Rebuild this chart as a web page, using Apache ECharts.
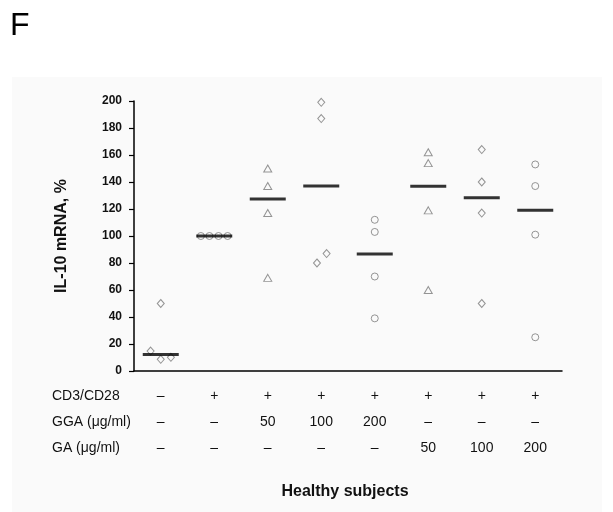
<!DOCTYPE html>
<html><head><meta charset="utf-8">
<script src="https://cdn.jsdelivr.net/npm/echarts@6/dist/echarts.min.js"></script>
<style>html,body{margin:0;padding:0;background:#fff}#c{width:613px;height:512px}</style>
</head><body><div id="c"></div>
<script>
// Condition rows (table under the x axis)
var rowLabels = ['CD3/CD28', 'GGA (\u03bcg/ml)', 'GA (\u03bcg/ml)'];
var rowCD3 = ['\u2013', '+', '+', '+', '+', '+', '+', '+'];
var rowGGA = ['\u2013', '\u2013', '50', '100', '200', '\u2013', '\u2013', '\u2013'];
var rowGA  = ['\u2013', '\u2013', '\u2013', '\u2013', '\u2013', '50', '100', '200'];
// Y ticks
var yMin = 0, yMax = 200, yStep = 20;
// Individual values per group (IL-10 mRNA, %)
var g1 = [50, 14.8, 8.7, 10.1];
var g2 = [100, 100, 100, 100];
var g3 = [150, 137, 117, 69];
var g4 = [199, 187, 87, 80];
var g5 = [112, 103, 70, 39];
var g6 = [162, 154, 119, 60];
var g7 = [164, 140, 117, 50];
var g8 = [153, 137, 101, 25];
// small horizontal jitter (category units) as seen in the figure
var j1 = [0, -0.19, 0, 0.19];
var j2 = [-0.25, -0.09, 0.08, 0.25];
var j0 = [0, 0, 0, 0];
var j4 = [0, 0, 0.1, -0.08];
// Group medians
var medians = [12.3, 100, 127.4, 137, 86.7, 136.8, 128.4, 119];
var groupSymbols = ['diamond', 'circle', 'triangle', 'diamond', 'circle', 'triangle', 'diamond', 'circle'];

var groups = [g1, g2, g3, g4, g5, g6, g7, g8];
var jitters = [j1, j2, j0, j4, j0, j0, j0, j0];
var cats = rowCD3.map(function (_, i) { return String(i); });

var FONT = 'Arial, "Liberation Sans", sans-serif';
var pts = { diamond: [], circle: [], triangle: [] };
groups.forEach(function (g, i) {
  g.forEach(function (v, k) { pts[groupSymbols[i]].push([i + jitters[i][k], v]); });
});
var symSize = { diamond: [7, 8], circle: 7, triangle: [8, 7] };

var series = ['diamond', 'circle', 'triangle'].map(function (s) {
  return {
    type: 'scatter', xAxisIndex: 1, symbol: s, symbolSize: symSize[s],
    data: pts[s], z: 3,
    itemStyle: { color: 'rgba(255,255,255,0)', borderColor: '#7a7a7a', borderWidth: 1 }
  };
});
series.push({
  type: 'scatter', xAxisIndex: 1, symbol: 'rect', symbolSize: [36, 3], z: 4,
  data: medians.map(function (m, i) { return [i, m]; }),
  itemStyle: { color: '#000' }
});

var chart = echarts.init(document.getElementById('c'), null, { renderer: 'canvas' });
chart.setOption({
  animation: false,
  backgroundColor: '#fff',
  grid: { left: 134, right: 51, top: 101, bottom: 141 },
  xAxis: [{
    type: 'category', data: cats, boundaryGap: true,
    axisLine: { lineStyle: { color: '#000', width: 1.5 } },
    axisTick: { alignWithLabel: true, length: 4, lineStyle: { color: '#000', width: 1.2 } },
    axisLabel: {
      margin: 12, fontFamily: FONT, fontSize: 14, color: '#111', lineHeight: 26,
      formatter: function (v, i) { return rowCD3[i] + '\n' + rowGGA[i] + '\n' + rowGA[i]; }
    },
    splitLine: { show: false }
  }, {
    type: 'value', min: -0.5, max: 7.5, show: false
  }],
  yAxis: {
    type: 'value', min: yMin, max: yMax, interval: yStep,
    name: 'IL-10 mRNA, %', nameLocation: 'middle', nameGap: 64, nameRotate: 90,
    nameTextStyle: { fontFamily: FONT, fontSize: 16, fontWeight: 'bold', color: '#111' },
    axisLine: { show: true, onZero: false, lineStyle: { color: '#000', width: 1.5 } },
    axisTick: { show: true, length: 5, lineStyle: { color: '#000', width: 1.2 } },
    axisLabel: { fontFamily: FONT, fontSize: 12, fontWeight: 'bold', color: '#111', margin: 12 },
    splitLine: { show: false }
  },
  graphic: [
    { type: 'rect', z: -10, silent: true, shape: { x: 12, y: 77, width: 590, height: 435 }, style: { fill: '#fafafa' } },
    { type: 'text', left: 10, top: 10, style: { text: 'F', font: '32px ' + FONT, fill: '#000' } },
    { type: 'text', x: 52, y: 396, style: { text: rowLabels[0], font: '14px ' + FONT, fill: '#111', verticalAlign: 'middle' } },
    { type: 'text', x: 52, y: 422, style: { text: rowLabels[1], font: '14px ' + FONT, fill: '#111', verticalAlign: 'middle' } },
    { type: 'text', x: 52, y: 448, style: { text: rowLabels[2], font: '14px ' + FONT, fill: '#111', verticalAlign: 'middle' } },
    { type: 'text', x: 345, y: 492, style: { text: 'Healthy subjects', font: 'bold 16px ' + FONT, fill: '#111', align: 'center', verticalAlign: 'middle' } }
  ],
  series: series
});
</script></body></html>
